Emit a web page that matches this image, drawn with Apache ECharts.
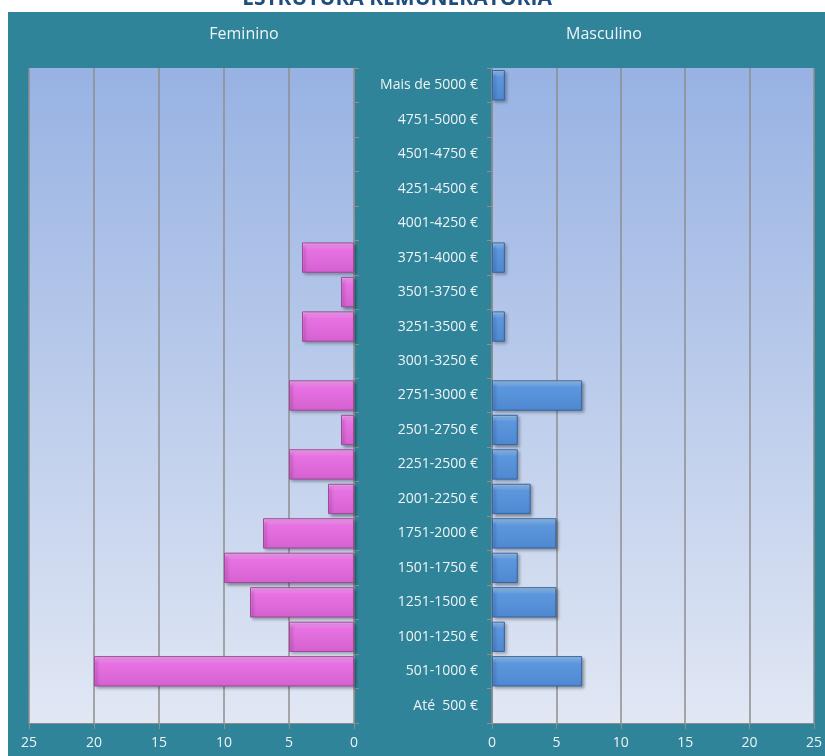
<!DOCTYPE html>
<html>
<head>
<meta charset="utf-8">
<script src="https://cdn.jsdelivr.net/npm/echarts@6/dist/echarts.min.js"></script>
<style>
  html, body { margin: 0; padding: 0; background: #fff; }
  #chart { width: 825px; height: 756px; }
</style>
</head>
<body>
<div id="chart"></div>
<script>
// escaloes, de cima para baixo
var escaloes = ["Mais de 5000 €", "4751-5000 €", "4501-4750 €", "4251-4500 €", "4001-4250 €",
    "3751-4000 €", "3501-3750 €", "3251-3500 €", "3001-3250 €", "2751-3000 €",
    "2501-2750 €", "2251-2500 €", "2001-2250 €", "1751-2000 €", "1501-1750 €",
    "1251-1500 €", "1001-1250 €", "501-1000 €", "Até  500 €"];
var feminino = [0, 0, 0, 0, 0, 4, 1, 4, 0, 5, 1, 5, 2, 7, 10, 8, 5, 20, 0];
var masculino = [1, 0, 0, 0, 0, 1, 0, 1, 0, 7, 2, 2, 3, 5, 2, 5, 1, 7, 0];
var ticksX = [0, 5, 10, 15, 20, 25];

var h = echarts.init(document.getElementById("chart"));
var fundo = new echarts.graphic.LinearGradient(0, 0, 0, 1, [
    { offset: 0, color: "#97b2e3" },
    { offset: 1, color: "#e1e7f4" }
]);
var corTexto = "#eef3f5";
var cinza = "#8e8e8e";

function barra(c1, c2, c3, borda) {
    return {
        color: new echarts.graphic.LinearGradient(0, 0, 0, 1, [
            { offset: 0, color: c1 },
            { offset: 0.22, color: c2 },
            { offset: 1, color: c3 }
        ]),
        borderColor: borda,
        borderWidth: 1,
        shadowColor: "rgba(0,0,0,0.35)",
        shadowBlur: 3,
        shadowOffsetX: 2,
        shadowOffsetY: 2
    };
}

function semZero(a) {
    return a.map(function (v) { return v === 0 ? "-" : v; });
}

function eixoX(idx, inverso) {
    return {
        type: "value",
        gridIndex: idx,
        inverse: inverso,
        min: 0,
        max: 25,
        interval: 5,
        axisLine: { show: true, lineStyle: { color: cinza } },
        axisTick: { show: true, length: 6, lineStyle: { color: cinza } },
        axisLabel: {
            color: corTexto, fontSize: 14, fontFamily: "Open Sans", margin: 13,
            formatter: function (v) { return ticksX.indexOf(v) >= 0 ? String(v) : ""; }
        },
        splitLine: { show: true, lineStyle: { color: cinza, width: 1.5 } }
    };
}

var option = {
    animation: false,
    graphic: [{
        type: "rect",
        z: -10,
        shape: { x: 8, y: 12, width: 817, height: 744 },
        style: { fill: "#30849a" }
    }, {
        type: "text",
        x: 397,
        y: -11,
        style: {
            text: "ESTRUTURA REMUNERATÓRIA",
            fill: "#1f4d7d",
            font: "bold 21px 'Open Sans'",
            textAlign: "center"
        }
    }, {
        type: "text",
        x: 244,
        y: 26,
        style: { text: "Feminino", fill: corTexto, font: "16px 'Open Sans'", textAlign: "center" }
    }, {
        type: "text",
        x: 604,
        y: 26,
        style: { text: "Masculino", fill: corTexto, font: "16px 'Open Sans'", textAlign: "center" }
    }],
    grid: [{
        left: 29, width: 325, top: 68, height: 655,
        show: true, backgroundColor: fundo, borderWidth: 0
    }, {
        left: 492, width: 324, top: 68, height: 655,
        show: true, backgroundColor: fundo, borderWidth: 0
    }],
    xAxis: [eixoX(0, true), eixoX(1, false)],
    yAxis: [{
        type: "category",
        gridIndex: 0,
        position: "right",
        inverse: true,
        data: escaloes,
        axisLine: { show: true, lineStyle: { color: cinza } },
        axisTick: { show: true, length: 5, lineStyle: { color: cinza } },
        axisLabel: { show: false }
    }, {
        type: "category",
        gridIndex: 1,
        position: "left",
        inverse: true,
        data: escaloes,
        axisLine: { show: true, lineStyle: { color: cinza } },
        axisTick: { show: true, length: 5, lineStyle: { color: cinza } },
        axisLabel: { color: corTexto, fontSize: 14, fontFamily: "Open Sans", margin: 14 }
    }],
    series: [{
        name: "Feminino",
        type: "bar",
        xAxisIndex: 0,
        yAxisIndex: 0,
        barCategoryGap: "12%",
        data: semZero(feminino),
        itemStyle: barra("#fbb0f8", "#e872e3", "#d561d0", "#9c4a99")
    }, {
        name: "Masculino",
        type: "bar",
        xAxisIndex: 1,
        yAxisIndex: 1,
        barCategoryGap: "12%",
        data: semZero(masculino),
        itemStyle: barra("#a6cdf6", "#5c97de", "#4f88d0", "#35649f")
    }]
};
h.setOption(option);
</script>
</body>
</html>
